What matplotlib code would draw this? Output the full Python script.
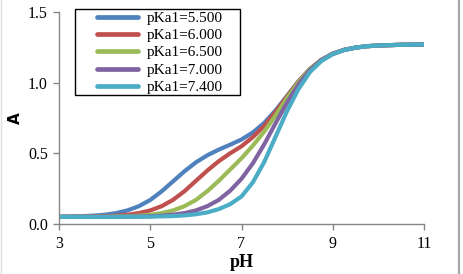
"""Absorbance vs pH for several pKa1 values (two-step titration curves)."""

import matplotlib.pyplot as plt
from matplotlib.lines import Line2D
from matplotlib.patches import Rectangle

ph = [3.0, 3.5, 3.75, 4.0, 4.25, 4.5, 4.75, 5.0, 5.25, 5.5, 5.75, 6.0, 6.25,
      6.5, 6.75, 7.0, 7.25, 7.5, 7.75, 8.0, 8.25, 8.5, 8.75, 9.0, 9.25, 9.5,
      9.75, 10.0, 10.5, 11.0]

a_pka_550 = [0.052, 0.055, 0.059, 0.065, 0.077, 0.096, 0.126, 0.170, 0.231,
             0.302, 0.373, 0.436, 0.486, 0.526, 0.561, 0.598, 0.648, 0.716,
             0.805, 0.907, 1.010, 1.097, 1.161, 1.205, 1.232, 1.248, 1.258,
             1.263, 1.268, 1.270]
a_pka_600 = [0.051, 0.052, 0.053, 0.055, 0.059, 0.065, 0.077, 0.096, 0.126,
             0.171, 0.232, 0.305, 0.378, 0.444, 0.500, 0.550, 0.615, 0.695,
             0.795, 0.903, 1.008, 1.096, 1.161, 1.205, 1.232, 1.248, 1.258,
             1.263, 1.268, 1.270]
a_pka_650 = [0.050, 0.051, 0.051, 0.052, 0.053, 0.055, 0.059, 0.065, 0.077,
             0.096, 0.126, 0.170, 0.232, 0.305, 0.385, 0.465, 0.555, 0.655,
             0.770, 0.892, 1.003, 1.095, 1.160, 1.204, 1.232, 1.248, 1.258,
             1.263, 1.268, 1.270]
a_pka_700 = [0.050, 0.050, 0.050, 0.051, 0.051, 0.052, 0.053, 0.055, 0.059,
             0.066, 0.077, 0.096, 0.126, 0.170, 0.235, 0.320, 0.430, 0.565,
             0.715, 0.860, 0.988, 1.088, 1.159, 1.204, 1.232, 1.248, 1.258,
             1.263, 1.268, 1.270]
a_pka_740 = [0.050, 0.050, 0.050, 0.050, 0.050, 0.051, 0.051, 0.052, 0.054,
             0.056, 0.061, 0.069, 0.082, 0.105, 0.140, 0.195, 0.295, 0.440,
             0.620, 0.800, 0.955, 1.075, 1.153, 1.202, 1.231, 1.248, 1.258,
             1.263, 1.268, 1.270]

series_labels = ["pKa1=5.500", "pKa1=6.000", "pKa1=6.500", "pKa1=7.000", "pKa1=7.400"]
series_values = [a_pka_550, a_pka_600, a_pka_650, a_pka_700, a_pka_740]
series_colors = ["#4F81BD", "#C0504D", "#9BBB59", "#8064A2", "#4BACC6"]

x_ticks = [3, 5, 7, 9, 11]
y_ticks = [0.0, 0.5, 1.0, 1.5]

SERIF = ["Liberation Serif", "DejaVu Serif"]
AXIS_GRAY = "#868686"
W, H = 463, 274


def fx(px):
    return px / W


def fy(px):
    return 1 - px / H


fig = plt.figure(figsize=(W / 100, H / 100), dpi=100)
ax = fig.add_axes([fx(59), 50 / H, 365 / W, 212 / H])

for vals, label, color in zip(series_values, series_labels, series_colors):
    ax.plot(ph, vals, color=color, linewidth=3.0, label=label,
            solid_capstyle="butt", solid_joinstyle="round")

ax.set_xlim(3, 11)
ax.set_ylim(0, 1.5)
ax.set_xticks(x_ticks)
ax.set_yticks(y_ticks)
ax.set_xticklabels([str(v) for v in x_ticks], fontfamily=SERIF, fontsize=11.5)
ax.set_yticklabels([f"{v:.1f}" for v in y_ticks], fontfamily=SERIF, fontsize=11.5)

for side in ("top", "right"):
    ax.spines[side].set_visible(False)
for side in ("left", "bottom"):
    ax.spines[side].set_color(AXIS_GRAY)
    ax.spines[side].set_linewidth(1.0)
ax.tick_params(axis="x", direction="out", length=4, width=1.0,
               color=AXIS_GRAY, pad=5, labelcolor="black")
ax.tick_params(axis="y", direction="out", length=4, width=1.0,
               color=AXIS_GRAY, pad=4, labelcolor="black")

ax.set_xlabel("pH", fontfamily=SERIF, fontweight="bold", fontsize=13, labelpad=1)
ax.set_ylabel("A", fontfamily="DejaVu Sans", fontweight="bold", fontsize=11, labelpad=4)

# legend box, laid out like the spreadsheet legend
fig.add_artist(Rectangle((fx(75), fy(95)), fx(240) - fx(75), fy(9) - fy(95),
                         transform=fig.transFigure, facecolor="white",
                         edgecolor="black", linewidth=1.0, zorder=5))
for i, (label, color) in enumerate(zip(series_labels, series_colors)):
    row_y = fy(16.8 + i * 17.3)
    fig.add_artist(Line2D([fx(97), fx(138)], [row_y, row_y], transform=fig.transFigure,
                          color=color, linewidth=3.4, solid_capstyle="round", zorder=6))
    fig.text(fx(147), row_y, label, fontfamily=SERIF, fontsize=11,
             ha="left", va="center_baseline", zorder=6)

# outer chart frame (only the side edges show in the original)
fig.add_artist(Line2D([fx(458.5), fx(458.5)], [0, 1], transform=fig.transFigure,
                      color="#A6A6A6", linewidth=1.6))
fig.add_artist(Line2D([fx(0.6), fx(0.6)], [0, 1], transform=fig.transFigure,
                      color="#E0E0E0", linewidth=1.0))

fig.savefig("out.png", dpi=100)
